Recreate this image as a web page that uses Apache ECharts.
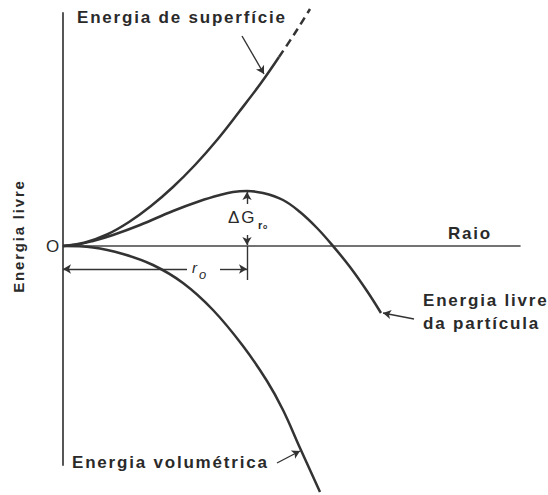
<!DOCTYPE html>
<html>
<head>
<meta charset="utf-8">
<script src="https://cdn.jsdelivr.net/npm/echarts@6/dist/echarts.min.js"></script>
<style>
  html, body { margin: 0; padding: 0; background: #fff; }
  #chart { width: 548px; height: 495px; letter-spacing: 1.8px; }
</style>
</head>
<body>
<div id="chart"></div>
<script>
// Free energy of a spherical nucleus versus its radius (arbitrary units).
// Each curve: radius values (x) and energy values (y).
const surfaceR     = [0, 22, 44, 66, 88, 110, 132, 154, 176, 198, 216];
const surfaceG     = [0, 3.5, 11.5, 24, 40, 59, 81, 106, 134, 163, 189];
const surfaceExtR  = [216, 232, 247];
const surfaceExtG  = [189, 213, 237];
const particleR    = [0, 15, 30, 50, 77, 110, 137, 157, 170, 184, 200, 220, 237, 254, 270, 287, 304, 318];
const particleG    = [0, 1.5, 5, 11, 21, 35, 45, 51, 54, 55, 53, 46, 34, 18, 0, -21, -45, -67];
const volumeR      = [0, 30, 60, 90, 120, 150, 180, 204, 220, 237, 257];
const volumeG      = [0, -1.5, -8, -19, -37, -64, -100, -135, -164, -202, -246];

// Critical radius and barrier height
const criticalR = 184;
const barrierG  = 55;

const pairs = (xs, ys) => xs.map((x, i) => [x, ys[i]]);

const INK = '#333';
const TEXT = '#2a2a2a';
const FONT = '"Liberation Sans", Arial, sans-serif';
const LABEL = 'bold 17px ' + FONT;

const chart = echarts.init(document.getElementById('chart'), null, { renderer: 'svg' });

const curve = (data, extra) => Object.assign({
  type: 'line',
  data: data,
  smooth: 0.4,
  symbol: 'none',
  clip: false,
  silent: true,
  lineStyle: { color: INK, width: 2.5 }
}, extra || {});

const seg = (a, b, opts) => {
  opts = opts || {};
  return [
    { coord: a, symbol: 'none' },
    { coord: b, symbol: opts.endArrow === false ? 'none' : 'arrow',
      lineStyle: { color: INK, width: opts.width || 1.4, type: 'solid', curveness: opts.curveness || 0 } }
  ];
};

chart.setOption({
  animation: false,
  backgroundColor: '#fff',
  grid: { left: 63, right: 28, top: 13, bottom: 30, containLabel: false, outerBoundsMode: 'none' },
  xAxis: {
    type: 'value', min: 0, max: 457,
    axisLine: { show: true, onZero: true, lineStyle: { color: '#444', width: 1.6 } },
    axisTick: { show: false }, axisLabel: { show: false }, splitLine: { show: false }
  },
  yAxis: {
    type: 'value', min: -219, max: 233,
    axisLine: { show: true, onZero: false, lineStyle: { color: '#444', width: 1.8 } },
    axisTick: { show: false }, axisLabel: { show: false }, splitLine: { show: false }
  },
  series: [
    curve(pairs(surfaceR, surfaceG)),
    curve(pairs(surfaceExtR, surfaceExtG), { lineStyle: { color: INK, width: 2.5, type: [8, 5] } }),
    curve(pairs(volumeR, volumeG)),
    curve(pairs(particleR, particleG), {
      markLine: {
        silent: true,
        animation: false,
        label: { show: false },
        symbolSize: [7, 8],
        data: [
          // leader lines from the curve labels
          seg([179, 210], [201, 172], { curveness: 0.35 }),
          seg([351, -73], [320, -67], { curveness: -0.15 }),
          seg([214, -217], [237, -205], { curveness: 0.2 }),
          // critical radius dimension
          seg([124, -23], [0, -23]),
          seg([157, -23], [criticalR, -23]),
          seg([criticalR, 0], [criticalR, -34], { endArrow: false }),
          // barrier height dimension
          seg([criticalR, 42], [criticalR, barrierG - 1]),
          seg([criticalR, 11], [criticalR, 1])
        ]
      }
    })
  ],
  graphic: [
    { type: 'text', left: 77, top: 9, style: { text: 'Energia de superfície', fill: TEXT, font: LABEL } },
    { type: 'text', left: 448, top: 225, style: { text: 'Raio', fill: TEXT, font: LABEL } },
    { type: 'text', left: 423, top: 289, style: { text: 'Energia livre\nda partícula', fill: TEXT, font: LABEL, lineHeight: 23 } },
    { type: 'text', left: 72, top: 454, style: { text: 'Energia volumétrica', fill: TEXT, font: LABEL } },
    { type: 'text', left: 46, top: 238, style: { text: 'O', fill: TEXT, font: '17px ' + FONT } },
    { type: 'text', x: 18, y: 236, rotation: Math.PI / 2,
      style: { text: 'Energia livre', fill: TEXT, font: 'bold 15px ' + FONT, textAlign: 'center', textVerticalAlign: 'middle' } },
    { type: 'text', left: 228, top: 209, style: { text: 'ΔG', fill: TEXT, font: '17px ' + FONT } },
    { type: 'text', left: 258, top: 219, style: { text: 'r', fill: TEXT, font: 'bold 11px ' + FONT } },
    { type: 'text', left: 263, top: 223, style: { text: 'o', fill: TEXT, font: 'bold 7px ' + FONT } },
    { type: 'text', left: 192, top: 260, style: { text: 'r', fill: TEXT, font: 'italic 15px ' + FONT } },
    { type: 'text', left: 199, top: 268, style: { text: 'o', fill: TEXT, font: 'italic 13px ' + FONT } }
  ]
});
</script>
</body>
</html>
